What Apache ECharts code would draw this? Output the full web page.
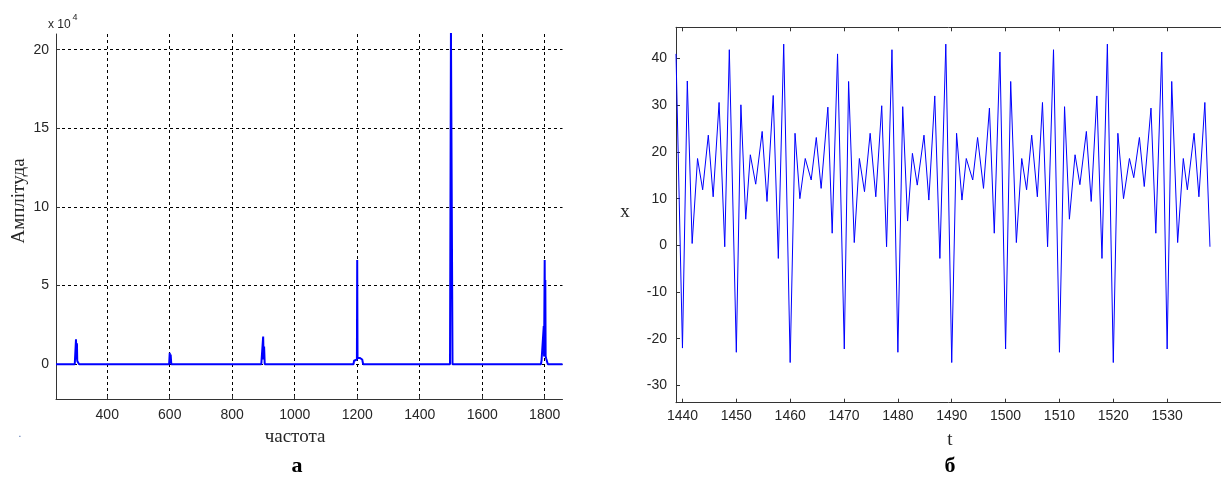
<!DOCTYPE html>
<html>
<head>
<meta charset="utf-8">
<script src="https://cdn.jsdelivr.net/npm/echarts@6/dist/echarts.min.js"></script>
<style>
html,body{margin:0;padding:0;background:#fff;}
#c{width:1221px;height:504px;}
</style>
</head>
<body>
<div id="c"></div>
<script>
// ---- Panel а: spectrum (amplitude in units of 1e4) ----
const spectrumFreq = [236, 286, 288, 292, 296, 299, 300, 301.5, 303, 304, 306, 308, 310,
  598, 600, 601.5, 603, 605,
  893, 895, 897, 899, 900.5, 902, 904,
  1168, 1171, 1174, 1188, 1190, 1196, 1199, 1200, 1201, 1204, 1208, 1212, 1216, 1219,
  1238, 1240, 1243, 1245,
  1497, 1500, 1503, 1505,
  1755, 1757, 1759, 1788, 1790, 1794, 1796, 1797, 1798, 1800, 1801, 1802, 1803, 1805, 1808, 1810,
  1826, 1828, 1830, 1857];
const spectrumAmp = [0, 0, 0.08, 0.05, 0, 0, 1.59, 0.3, 1.34, 0.2, 0.1, 0.08, 0,
  0, 0.72, 0.3, 0.62, 0,
  0, 0.08, 0, 1.76, 0.3, 1.12, 0,
  0, 0.06, 0, 0, 0.22, 0.28, 0.3, 6.63, 0.4, 0.36, 0.4, 0.36, 0.3, 0,
  0, 0.12, 0.1, 0,
  0, 21.3, 21.3, 0,
  0, 0.1, 0, 0, 0.25, 0.3, 0.35, 2.43, 0.5, 6.63, 1.0, 5.35, 0.5, 0.35, 0.3, 0,
  0, 0.06, 0, 0];
const freqTicks = [400, 600, 800, 1000, 1200, 1400, 1600, 1800];
const ampTicks = [0, 5, 10, 15, 20];

// ---- Panel б: time signal ----
const signalT = [1438.8, 1440.0, 1440.9, 1441.8, 1442.8, 1443.75, 1444.8, 1445.7, 1446.8, 1447.85,
  1448.7, 1450.0, 1450.85, 1451.75, 1452.6, 1453.6, 1454.8, 1455.7, 1456.85, 1457.8,
  1458.8, 1460.0, 1460.9, 1461.8, 1462.8, 1463.9, 1464.85, 1465.75, 1467.0, 1467.8,
  1468.8, 1470.05, 1470.85, 1471.9, 1472.85, 1473.8, 1474.85, 1475.9, 1477.0, 1477.9,
  1478.9, 1480.0, 1480.9, 1481.8, 1482.7, 1483.6, 1484.85, 1485.75, 1486.85, 1487.8,
  1488.9, 1490.0, 1490.9, 1491.9, 1492.7, 1493.9, 1494.8, 1495.9, 1497.0, 1497.9,
  1498.95, 1500.0, 1500.95, 1502.0, 1503.0, 1503.9, 1504.85, 1505.9, 1506.85, 1507.8,
  1508.9, 1510.0, 1510.95, 1511.85, 1512.9, 1513.8, 1515.0, 1515.9, 1516.95, 1517.9,
  1518.9, 1520.0, 1520.85, 1521.9, 1523.0, 1523.8, 1524.85, 1525.75, 1527.0, 1527.9,
  1529.0, 1530.0, 1530.85, 1531.95, 1533.0, 1533.75, 1535.0, 1535.9, 1537.0, 1537.95];
const signalX = [41, -22, 35.2, 0.4, 18.6, 11.9, 23.6, 10.4, 30.6, -0.3,
  41.9, -22.9, 30.1, 5.6, 19.4, 13.1, 24.4, 9.4, 32.1, -2.8,
  43.1, -25.1, 24, 10, 18.6, 14, 23.1, 12.2, 29.6, 2.6,
  41, -22.2, 35.1, 0.6, 18.6, 11.5, 24, 10.4, 29.9, -0.3,
  41.9, -22.9, 29.7, 5.2, 19.7, 12.9, 23.6, 9.7, 32, -2.8,
  43.1, -25.1, 24, 9.7, 18.6, 14, 23.1, 12.2, 29.4, 2.6,
  41.4, -22.2, 35.1, 0.6, 18.6, 11.9, 23.6, 10.4, 30.6, -0.3,
  41.9, -22.9, 29.7, 5.6, 19.4, 13, 24.4, 9.4, 32, -2.8,
  43.1, -25.1, 24, 10, 18.6, 14.5, 23.1, 12.6, 29.4, 2.6,
  41.4, -22.2, 35.1, 0.6, 18.6, 11.9, 24, 10.4, 30.6, -0.3];
const timeTicks = [1440, 1450, 1460, 1470, 1480, 1490, 1500, 1510, 1520, 1530];
const xTicks = [-30, -20, -10, 0, 10, 20, 30, 40];

const plain = v => String(v);
const labelFont = { fontFamily: 'Liberation Sans', fontSize: 14, color: '#262626', formatter: plain };
const axisLineStyle = { color: '#333', width: 1 };
const gridDash = { color: '#000', width: 1, type: [3, 3] };

const chart = echarts.init(document.getElementById('c'), null, { renderer: 'canvas' });
chart.setOption({
  animation: false,
  backgroundColor: '#fff',
  grid: [
    { left: 56, top: 34, width: 506.5, height: 365.3 },
    { left: 676, top: 27.3, width: 556.6, height: 375.4 }
  ],
  xAxis: [
    { type: 'value', gridIndex: 0, min: 236, max: 1857, position: 'bottom',
      axisLine: { show: true, onZero: false, lineStyle: axisLineStyle },
      axisTick: { show: true, inside: true, length: 4, customValues: freqTicks, lineStyle: axisLineStyle },
      axisLabel: Object.assign({ customValues: freqTicks, margin: 9 }, labelFont),
      splitLine: { show: true, lineStyle: gridDash } },
    { type: 'value', gridIndex: 1, min: 1438.8, max: 1540, position: 'bottom',
      axisLine: { show: true, onZero: false, lineStyle: axisLineStyle },
      axisTick: { show: true, inside: true, length: 4, customValues: timeTicks, lineStyle: axisLineStyle },
      axisLabel: Object.assign({ customValues: timeTicks, margin: 6 }, labelFont),
      splitLine: { show: false } },
    { type: 'value', gridIndex: 1, min: 1438.8, max: 1540, position: 'top',
      axisLine: { show: true, onZero: false, lineStyle: axisLineStyle },
      axisTick: { show: true, inside: true, length: 4, customValues: timeTicks, lineStyle: axisLineStyle },
      axisLabel: { show: false },
      splitLine: { show: false } }
  ],
  yAxis: [
    { type: 'value', gridIndex: 0, min: -2.23, max: 21,
      axisLine: { show: true, onZero: false, lineStyle: axisLineStyle },
      axisTick: { show: true, inside: true, length: 4, customValues: ampTicks, lineStyle: axisLineStyle },
      axisLabel: Object.assign({ customValues: ampTicks, margin: 7 }, labelFont),
      splitLine: { show: true, lineStyle: gridDash } },
    { type: 'value', gridIndex: 1, min: -33.7, max: 46.7,
      axisLine: { show: true, onZero: false, lineStyle: axisLineStyle },
      axisTick: { show: true, inside: true, length: 4, customValues: xTicks, lineStyle: axisLineStyle },
      axisLabel: Object.assign({ customValues: xTicks, margin: 9 }, labelFont),
      splitLine: { show: false } }
  ],
  series: [
    { type: 'line', xAxisIndex: 0, yAxisIndex: 0, symbol: 'none', clip: true,
      data: spectrumFreq.map((f, i) => [f, spectrumAmp[i]]),
      lineStyle: { color: '#0000ff', width: 2 } },
    { type: 'line', xAxisIndex: 1, yAxisIndex: 1, symbol: 'none', clip: true,
      data: signalT.map((t, i) => [t, signalX[i]]),
      lineStyle: { color: '#0000ff', width: 1 } }
  ],
  graphic: [
    { type: 'text', x: 48, y: 25,
      style: { text: 'x 10', font: '12px "Liberation Sans"', fill: '#262626', align: 'left', verticalAlign: 'middle' } },
    { type: 'text', x: 72.5, y: 18,
      style: { text: '4', font: '9px "Liberation Sans"', fill: '#262626', align: 'left', verticalAlign: 'middle' } },
    { type: 'text', x: 19, y: 201, rotation: Math.PI / 2,
      style: { text: 'Амплітуда', font: '19px "Liberation Serif"', fill: '#262626', align: 'center', verticalAlign: 'middle' } },
    { type: 'text', x: 295, y: 437,
      style: { text: 'частота', font: '19px "Liberation Serif"', fill: '#262626', align: 'center', verticalAlign: 'middle' } },
    { type: 'text', x: 625, y: 212,
      style: { text: 'x', font: '19px "Liberation Serif"', fill: '#262626', align: 'center', verticalAlign: 'middle' } },
    { type: 'text', x: 950, y: 440,
      style: { text: 't', font: '19px "Liberation Serif"', fill: '#262626', align: 'center', verticalAlign: 'middle' } },
    { type: 'text', x: 297, y: 466,
      style: { text: 'а', font: 'bold 22px "Liberation Serif"', fill: '#000', align: 'center', verticalAlign: 'middle' } },
    { type: 'text', x: 950, y: 466,
      style: { text: 'б', font: 'bold 22px "Liberation Serif"', fill: '#000', align: 'center', verticalAlign: 'middle' } },
    { type: 'text', x: 20, y: 434,
      style: { text: '.', font: '10px "Liberation Sans"', fill: '#4466aa', align: 'center', verticalAlign: 'middle' } }
  ]
});
</script>
</body>
</html>
